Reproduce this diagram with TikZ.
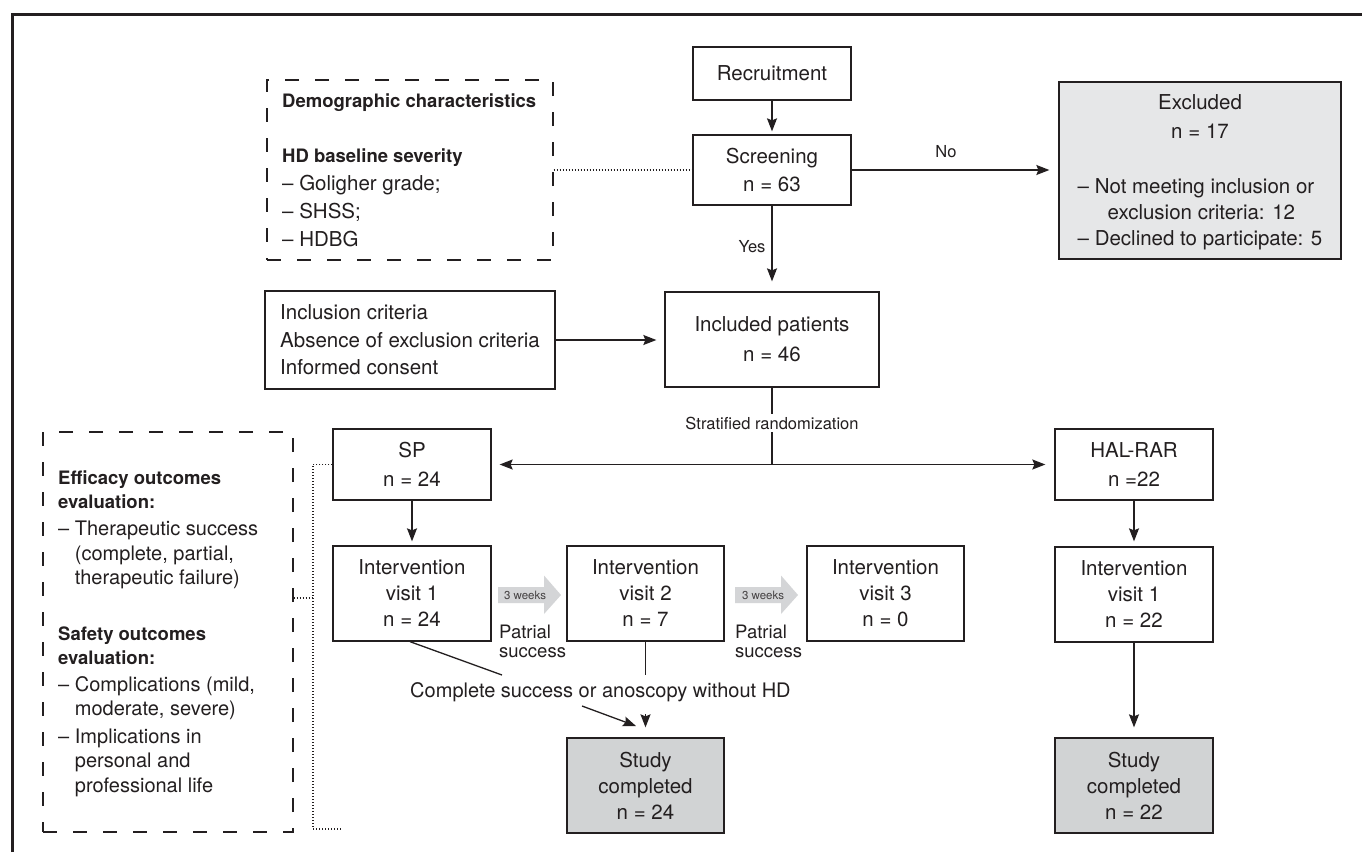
\documentclass[tikz,border=0pt]{standalone}
\usepackage{fontspec}
\setmainfont{TeX Gyre Heros}
\usetikzlibrary{arrows.meta,calc}
\definecolor{ink}{HTML}{231F20}
\definecolor{exfill}{HTML}{E6E7E8}
\definecolor{scfill}{HTML}{D1D3D4}
\definecolor{warrow}{HTML}{D4D5D7}
\begin{document}
\begin{tikzpicture}[x=1pt,y=-1pt,
  box/.style={draw=ink, line width=1.3pt, fill=white, inner sep=0pt, align=center, text=ink, font=\fontsize{20.5}{26}\selectfont},
  arr/.style={draw=ink, line width=1.3pt, -{Stealth[length=13pt,width=10pt,inset=2pt]}},
  plain/.style={draw=ink, line width=1.3pt},
  dbox/.style={draw=ink, line width=1.3pt, dash pattern=on 14pt off 16pt, inner sep=0pt},
  dotl/.style={draw=ink, line width=1.2pt, dash pattern=on 1.3pt off 1.7pt},
  lab/.style={text=ink, inner sep=0pt, font=\fontsize{16.5}{20}\selectfont},
  txt/.style={text=ink, inner sep=0pt}
]
\useasboundingbox (0,0) rectangle (1362,852);
\fill[white] (0,0) rectangle (1362,852);
% frame
\draw[ink, line width=3pt] (12.5,852) -- (12.5,14.5) -- (1362,14.5);

% top boxes
\node[box, minimum width=158, minimum height=53] (rec) at (772,73.5) {Recruitment};
\node[box, minimum width=158, minimum height=70, font=\fontsize{20.5}{28}\selectfont] (scr) at (772,170) {Screening\\n = 63};
\node[box, fill=exfill, minimum width=282, minimum height=177] (exc) at (1200,170.5) {};
\node[txt, align=center, anchor=base, font=\fontsize{20.5}{29}\selectfont] (exct) at (1200,138) {Excluded\\n = 17};
\node[txt, align=left, anchor=base, font=\fontsize{20.5}{26}\selectfont] (excl) at (1200,245) {– Not meeting inclusion or\\\hspace*{30pt}exclusion criteria: 12\\– Declined to participate: 5};
\node[box, minimum width=214, minimum height=95, font=\fontsize{20.5}{30}\selectfont] (inc) at (772,339.5) {Included patients\\n = 46};
\node[box, minimum width=290, minimum height=98, align=left, font=\fontsize{20.5}{27.5}\selectfont] (crit) at (410,340) {Inclusion criteria\\Absence of exclusion criteria\\Informed consent};

% demographic dashed box
\node[dbox, minimum width=286, minimum height=180] (demo) at (410,170) {};
\node[txt, anchor=base west, align=left, font=\fontsize{20.5}{27.7}\selectfont] (demot) at (282,246)
  {{\bfseries\fontsize{18.5}{27.7}\selectfont Demographic characteristics}\\[27.7pt]
   {\bfseries\fontsize{18.5}{27.7}\selectfont HD baseline severity}\\
   – Goligher grade;\\– SHSS;\\– HDBG};

% arms
\node[box, minimum width=158, minimum height=71, font=\fontsize{20.5}{29}\selectfont] (sp) at (412,464.5) {SP\\n = 24};
\node[box, minimum width=158, minimum height=71, font=\fontsize{20.5}{29}\selectfont] (hal) at (1134,464.5) {HAL-RAR\\n =22};
\node[box, minimum width=158, minimum height=95] (iv1) at (412,593.5) {Intervention\\visit 1\\n = 24};
\node[box, minimum width=157, minimum height=95] (iv2) at (645.5,593.5) {Intervention\\visit 2\\n = 7};
\node[box, minimum width=157, minimum height=95] (iv3) at (885.5,593.5) {Intervention\\visit 3\\n = 0};
\node[box, minimum width=158, minimum height=95] (hiv) at (1134,594.5) {Intervention\\visit 1\\n = 22};
\node[box, fill=scfill, minimum width=157, minimum height=95] (sc1) at (645.5,785.5) {Study\\completed\\n = 24};
\node[box, fill=scfill, minimum width=158, minimum height=95] (sc2) at (1134,785.5) {Study\\completed\\n = 22};

% outcomes dashed box
\node[dbox, minimum width=250, minimum height=400] (outc) at (168,632) {};
\node[txt, anchor=base west, align=left, font=\fontsize{20}{24.5}\selectfont] (outt) at (58,792)
  {{\bfseries\fontsize{18.5}{24.5}\selectfont Efficacy outcomes}\\
   {\bfseries\fontsize{18.5}{24.5}\selectfont evaluation:}\\[2.5pt]
   – Therapeutic success\\
   \phantom{– }(complete, partial,\\
   \phantom{– }therapeutic failure)\\[31pt]
   {\bfseries\fontsize{18.5}{24.5}\selectfont Safety outcomes}\\
   {\bfseries\fontsize{18.5}{24.5}\selectfont evaluation:}\\[2pt]
   – Complications (mild,\\
   \phantom{– }moderate, severe)\\[3pt]
   – Implications in\\
   \phantom{– }personal and\\
   \phantom{– }professional life};

% connectors top
\draw[arr, shorten >=3pt] (rec.south) -- (scr.north);
\draw[arr, shorten >=9pt] (scr.east) -- (exc.west |- scr.east);
\node[lab] (no) at (946,152) {No};
\draw[arr, shorten >=10pt] (scr.south) -- (inc.north);
\node[lab] (yes) at (752,247) {Yes};
\draw[arr, shorten >=8pt] (crit.east) -- (inc.west |- crit.east);
\draw[dotl] (demo.east) -- (scr.west);

% randomization
\coordinate (jn) at (772,464.5);
\draw[plain] (inc.south) -- (jn);
\node[lab, fill=white, inner xsep=2pt, inner ysep=2.5pt, font=\fontsize{16.5}{20}\selectfont] (strat) at (772,423) {Stratified randomization};
\draw[arr, shorten >=8pt] (jn) -- (sp.east);
\draw[arr, shorten >=9pt] (jn) -- (hal.west);
\draw[arr, shorten >=4pt] (sp.south) -- (iv1.north);
\draw[arr, shorten >=5pt] (hal.south) -- (hiv.north);
\draw[arr, shorten >=10pt] (hiv.south) -- (sc2.north);

% 3 weeks block arrows
\fill[warrow] (498,587) -- (544,587) -- (544,575.5) -- (561,595) -- (544,614) -- (544,603) -- (498,603) -- cycle;
\node[txt, text=ink!85, font=\fontsize{11.5}{13}\selectfont] (w1) at (525,595) {3 weeks};
\fill[warrow] (735,587) -- (781,587) -- (781,575.5) -- (798,595) -- (781,614) -- (781,603) -- (735,603) -- cycle;
\node[txt, text=ink!85, font=\fontsize{11.5}{13}\selectfont] (w2) at (763,595) {3 weeks};
\node[txt, anchor=base west, align=left, font=\fontsize{18.5}{18.5}\selectfont] (ps1) at (499,657) {Patrial\\success};
\node[txt, anchor=base west, align=left, font=\fontsize{18.5}{18.5}\selectfont] (ps2) at (735,657) {Patrial\\success};

% complete success
\node[txt, anchor=west, font=\fontsize{20}{24}\selectfont] (cs) at (410,692) {Complete success or anoscopy without HD};
\coordinate (d1) at (502,675);
\coordinate (d2) at (582,706);
\coordinate (d3) at (636,726);
\draw[plain] ([xshift=-2pt]iv1.south) -- (d1);
\draw[arr] (d2) -- (d3);
\coordinate (v1) at (645.5,675);
\coordinate (v2) at (645.5,714);
\draw[plain] (iv2.south) -- (v1);
\draw[arr, shorten >=10pt] (v2) -- (sc1.north);

% dotted outcome links
\coordinate (dv1) at (313,464.5);
\coordinate (dv2) at (313,829);
\coordinate (dm) at (313,598);
\coordinate (dend) at (341,829);
\draw[dotl] (sp.west) -- (dv1) -- (dv2) -- (dend);
\draw[dotl] (outc.east |- dm) -- (dm);
\end{tikzpicture}
\end{document}
